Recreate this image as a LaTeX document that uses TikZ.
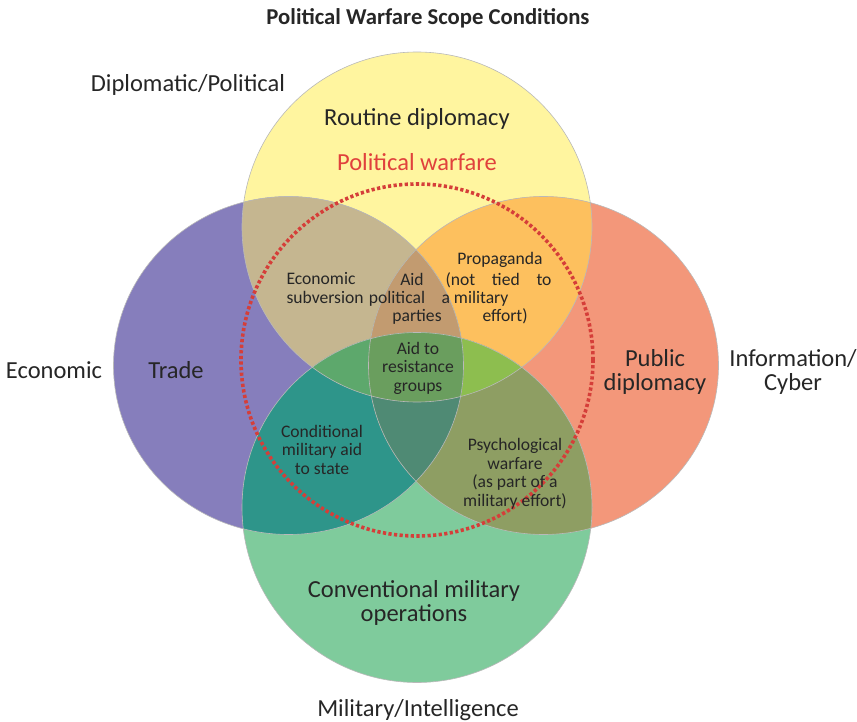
\documentclass[tikz,border=0pt]{standalone}
\usepackage{fontspec}
\setmainfont{Carlito}
\usetikzlibrary{positioning}

\definecolor{dipY}{HTML}{FFF59F}
\definecolor{ecoP}{HTML}{867EBC}
\definecolor{infS}{HTML}{F3977A}
\definecolor{milG}{HTML}{7FCB9C}
\definecolor{YP}{HTML}{C5B690}
\definecolor{YS}{HTML}{FDC05E}
\definecolor{PG}{HTML}{2E958A}
\definecolor{SG}{HTML}{8E9E63}
\definecolor{YPS}{HTML}{C29B70}
\definecolor{PSG}{HTML}{4F8A74}
\definecolor{YPG}{HTML}{5DA86C}
\definecolor{YSG}{HTML}{8DBE4F}
\definecolor{YPSG}{HTML}{6A9E5E}
\definecolor{pwred}{HTML}{E0413C}
\definecolor{txt}{HTML}{262626}

\newcommand{\cirY}{(417,227) circle (175pt)}
\newcommand{\cirP}{(288.5,365.5) ellipse (175pt and 169pt)}
\newcommand{\cirS}{(543.5,365.5) ellipse (175pt and 169pt)}
\newcommand{\cirG}{(417,507.5) circle (175pt)}

\begin{document}
\begin{tikzpicture}[x=1pt, y=-1pt]
	\tikzset{rim/.style={draw=gray!55, line width=0.6pt},
		pwline/.style={draw=pwred!95!black, line width=3.6pt, dash pattern=on 3.2pt off 2.4pt},
		big/.style={anchor=base, text=txt, font=\fontsize{24.5}{24}\selectfont, align=center},
		small/.style={anchor=base, text=txt, font=\fontsize{17.6}{18.5}\selectfont, align=center}}
	\useasboundingbox (0,0) rectangle (857,722);

	% the four fields
	\fill[dipY] \cirY; \fill[ecoP] \cirP; \fill[infS] \cirS; \fill[milG] \cirG;
	% overlaps of two
	\begin{scope} \clip \cirY; \fill[YP] \cirP; \fill[YS] \cirS; \fill[YPSG] \cirG; \end{scope}
	\begin{scope} \clip \cirG; \fill[PG] \cirP; \fill[SG] \cirS; \end{scope}
	\begin{scope} \clip \cirP; \fill[YPSG] \cirS; \end{scope}
	% overlaps of three
	\begin{scope} \clip \cirY; \clip \cirP; \fill[YPS] \cirS; \fill[YPG] \cirG; \end{scope}
	\begin{scope} \clip \cirY; \clip \cirS; \fill[YSG] \cirG; \end{scope}
	\begin{scope} \clip \cirG; \clip \cirP; \fill[PSG] \cirS; \end{scope}
	% all four
	\begin{scope} \clip \cirY; \clip \cirP; \clip \cirS; \fill[YPSG] \cirG; \end{scope}
	\draw[rim] \cirY; \draw[rim] \cirP; \draw[rim] \cirS; \draw[rim] \cirG;

	\draw[pwline] (417,360) circle (176pt);

	% base anchor = baseline of the last line
	\node[anchor=base, text=txt, font=\fontsize{22.7}{25}\selectfont\bfseries] (title) at (428,25) {Political Warfare Scope Conditions};
	\node[big] (dipl) at (188,92) {Diplomatic/Political};
	\node[big] (routine) at (417,126) {Routine diplomacy};
	\node[big, text=pwred] (polwar) at (417,171) {Political warfare};
	\node[big] (econ) at (54,378) {Economic};
	\node[big] (trade) at (176,378) {Trade};
	\node[big] (public) at (655,390) {Public\\diplomacy};
	\node[big] (info) at (793,390) {Information/\\Cyber};
	\node[big] (conv) at (414,621) {Conventional military\\operations};
	\node[big] (milint) at (418,716) {Military/Intelligence};

	\node[small, anchor=base west, align=left] (ecsub) at (283,303) {Economic\\subversion};
	\node[small] (aid) at (412,285) {Aid};
	\node[small] (polit) at (397,303) {political};
	\node[small] (parties) at (417,321) {parties};
	\node[small, anchor=base east] (prop) at (546,265) {Propaganda};
	\node[small, anchor=base west] (nottied) at (442,285) {\makebox[106pt][s]{(not tied to}};
	\node[small, anchor=base west] (amil) at (438,303) {a military};
	\node[small, anchor=base west] (effort) at (479,321) {effort)};
	\node[small] (resist) at (418,391) {Aid to\\resistance\\groups};
	\node[small] (condaid) at (322,474) {Conditional\\military aid\\to state};
	\node[small] (psywar) at (515,506) {Psychological\\warfare\\(as part of a\\military effort)};
\end{tikzpicture}
\end{document}
